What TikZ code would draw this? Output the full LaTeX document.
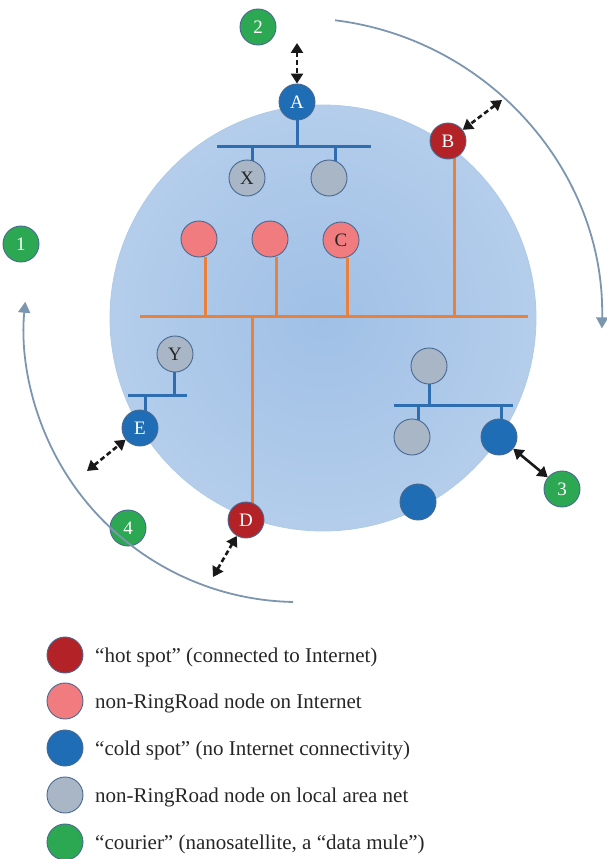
\documentclass[tikz,border=0pt]{standalone}
\usepackage{fontspec}
\setmainfont{Liberation Serif}
\usetikzlibrary{arrows.meta}
\definecolor{hotred}{RGB}{178,34,38}
\definecolor{pinkn}{RGB}{240,124,128}
\definecolor{coldblue}{RGB}{31,109,180}
\definecolor{greyn}{RGB}{169,182,198}
\definecolor{greenn}{RGB}{44,168,82}
\definecolor{rimc}{RGB}{72,104,145}
\definecolor{orangel}{RGB}{234,128,58}
\definecolor{busblue}{RGB}{46,109,176}
\definecolor{arcc}{RGB}{125,150,176}
\definecolor{ballin}{RGB}{160,192,230}
\definecolor{ballmid}{RGB}{182,207,236}
\definecolor{ballout}{RGB}{210,227,244}
\definecolor{ballrim}{RGB}{175,203,232}
\pgfdeclareradialshading{ballshade}{\pgfpoint{0bp}{0bp}}{color(0bp)=(ballin); color(28bp)=(ballmid); color(50bp)=(ballout); color(60bp)=(ballout)}
\tikzset{
  dot/.style={circle, minimum size=36pt, inner sep=0pt, draw=rimc, line width=0.9pt, font=\fontsize{19}{19}\selectfont},
  hot/.style={dot, fill=hotred, text=white},
  pinkdot/.style={dot, fill=pinkn, text=black!85},
  cold/.style={dot, fill=coldblue, text=white},
  lan/.style={dot, fill=greyn, text=black!85},
  courier/.style={dot, fill=greenn, text=white},
  obus/.style={draw=orangel, line width=3pt},
  bbus/.style={draw=busblue, line width=3pt},
  linkd/.style={draw=black!90, line width=2.6pt, dash pattern=on 5pt off 3pt, {Triangle[length=10pt,width=12pt]}-{Triangle[length=10pt,width=12pt]}},
  links/.style={draw=black!90, line width=2.6pt, {Triangle[length=10pt,width=12pt]}-{Triangle[length=10pt,width=12pt]}},
  orbit/.style={draw=arcc, line width=1.8pt, -{Triangle[length=11pt,width=12pt]}},
  legtext/.style={anchor=base west, font=\fontsize{21}{21}\selectfont, text=black!85, inner sep=0pt}
}
\begin{document}
\begin{tikzpicture}[x=1pt,y=-1pt]
\useasboundingbox (0,0) rectangle (606,859);
% big ball
\shade[shading=ballshade] (323,318) circle[radius=213];
\draw[ballrim, line width=0.8pt] (323,318) circle[radius=213];

% bus coordinates
\coordinate (abL) at (217,146);
\coordinate (abR) at (371,146);
\coordinate (obL) at (140,316);
\coordinate (obR) at (528,316);
\coordinate (ebL) at (128,395);
\coordinate (ebR) at (187,395);
\coordinate (gbL) at (394,405);
\coordinate (gbR) at (513,405);

% A LAN
\path[bbus] (abL) -- (abR);
\path[bbus] (297,120) -- (297,146);
\path[bbus] (252,146) -- (252,161.5);
\path[bbus] (335,146) -- (335,161.5);

% orange internet bus
\path[obus] (obL) -- (obR);
\path[obus] (205,256.5) -- (205,316);
\path[obus] (276,256.5) -- (276,316);
\path[obus] (347,257.5) -- (347,316);
\path[obus] (454,158) -- (454,316);
\path[obus] (252,316) -- (252,503);

% E LAN
\path[bbus] (ebL) -- (ebR);
\path[bbus] (174,371.5) -- (174,395);
\path[bbus] (145,395) -- (145,410.5);

% right LAN
\path[bbus] (gbL) -- (gbR);
\path[bbus] (429,383) -- (429,405);
\path[bbus] (418,405) -- (418,419.5);
\path[bbus] (501,405) -- (501,419.5);

% nodes
\node[cold] (A) at (297,102) {A};
\node[lan] (X) at (247,178) {X};
\node[lan] (X2) at (329,178) {};
\node[hot] (B) at (448,141) {B};
\node[pinkdot] (P1) at (199,239) {};
\node[pinkdot] (P2) at (270,239) {};
\node[pinkdot] (C) at (341,240) {C};
\node[lan] (Y) at (175,354) {Y};
\node[cold] (E) at (140,428) {E};
\node[lan] (G1) at (429,366) {};
\node[lan] (G2) at (412,437) {};
\node[cold] (F) at (499,437) {};
\node[cold] (H) at (418,502) {};
\node[hot] (D) at (246,520) {D};
\node[courier] (n1) at (21,244) {1};
\node[courier] (n2) at (258,27) {2};
\node[courier] (n3) at (562,489) {3};
\node[courier] (n4) at (128,528) {4};

% links
\coordinate (a2) at (297,43);
\coordinate (b2) at (502,100);
\coordinate (e2) at (87,471);
\coordinate (d2) at (213,577);
\draw[linkd] (a2) -- (A);
\draw[linkd] (b2) -- (B);
\draw[linkd] (e2) -- (E);
\draw[linkd] (d2) -- (D);
\draw[links] (F) -- (n3);

% orbits
\draw[orbit] (298,322) ++(-83:304) arc[start angle=-83, end angle=1.2, radius=304];
\draw[orbit] (298,328) ++(91:274) arc[start angle=91, end angle=185.5, radius=274];

% legend
\node[hot] (L1) at (65,655) {};
\node[pinkdot] (L2) at (65,701) {};
\node[cold] (L3) at (65,748) {};
\node[lan] (L4) at (65,795) {};
\node[courier] (L5) at (65,842) {};
\node[legtext] (T1) at (95,662) {“hot spot” (connected to Internet)};
\node[legtext] (T2) at (95,708) {non-RingRoad node on Internet};
\node[legtext] (T3) at (95,755) {“cold spot” (no Internet connectivity)};
\node[legtext] (T4) at (95,802) {non-RingRoad node on local area net};
\node[legtext] (T5) at (95,849) {“courier” (nanosatellite, a “data mule”)};
\end{tikzpicture}
\end{document}
